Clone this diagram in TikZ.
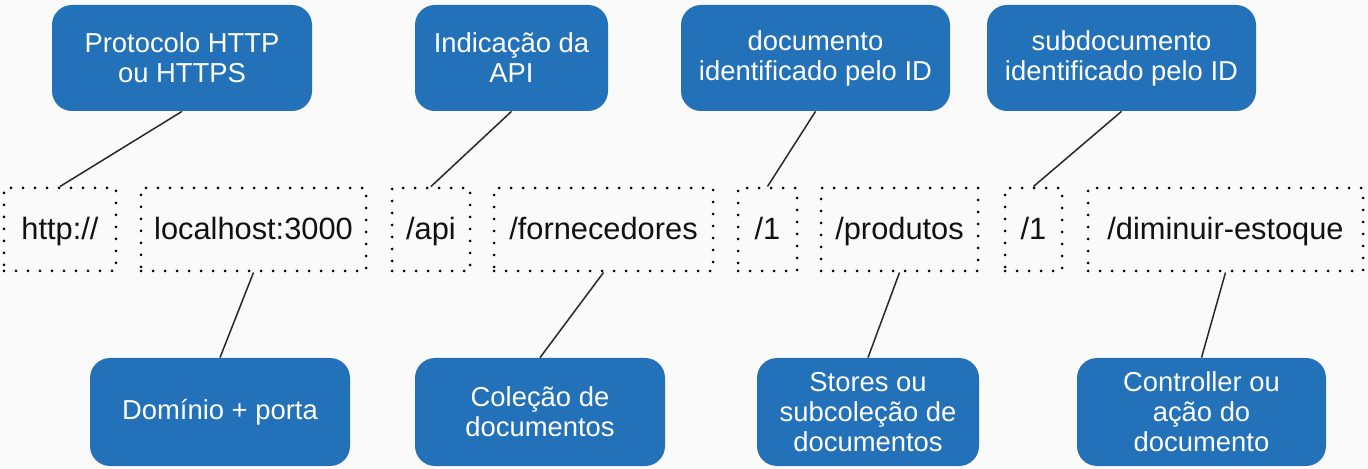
\documentclass[tikz,border=0pt]{standalone}
\usepackage{fontspec}
\setmainfont{Liberation Sans}
\definecolor{bgc}{RGB}{250,250,250}
\definecolor{boxblue}{RGB}{34,113,185}
\definecolor{linegray}{RGB}{40,40,40}
\definecolor{txt}{RGB}{17,17,17}
\begin{document}
\begin{tikzpicture}[x=0.5pt,y=-0.5pt,
  bluebox/.style={fill=boxblue, rounded corners=10pt, text=white, align=center,
    font=\fontsize{13.7}{15}\selectfont, inner sep=0pt},
  dotbox/.style={draw=black, line width=1.5pt, dash pattern=on 0pt off 6pt, line cap=round,
    font=\fontsize{15.4}{18}\selectfont, text=txt, inner sep=0pt, minimum height=41.5pt,
    text height=12pt, text depth=1.5pt},
  conn/.style={draw=linegray, line width=0.75pt}]
\fill[bgc] (0,0) rectangle (1368,469);
\useasboundingbox (0,0) rectangle (1368,469);
% top boxes
\node[bluebox, minimum width=130pt, minimum height=53pt] (t1) at (182,58) {Protocolo HTTP\\ou HTTPS};
\node[bluebox, minimum width=96.5pt, minimum height=53pt] (t2) at (511.5,58) {Indicação da\\API};
\node[bluebox, minimum width=134.5pt, minimum height=53pt] (t3) at (815.5,58) {documento\\identificado pelo ID};
\node[bluebox, minimum width=134.5pt, minimum height=53pt] (t4) at (1121.5,58) {subdocumento\\identificado pelo ID};
% dotted boxes
\node[dotbox, minimum width=56pt] (d1) at (60,229.5) {http://};
\node[dotbox, minimum width=112.5pt] (d2) at (253.5,229.5) {localhost:3000};
\node[dotbox, minimum width=39pt] (d3) at (431,229.5) {/api};
\node[dotbox, minimum width=109.5pt] (d4) at (603.5,229.5) {/fornecedores};
\node[dotbox, minimum width=29.5pt] (d5) at (767.5,229.5) {/1};
\node[dotbox, minimum width=78.5pt] (d6) at (899.5,229.5) {/produtos};
\node[dotbox, minimum width=28.5pt] (d7) at (1033.5,229.5) {/1};
\node[dotbox, minimum width=137.5pt] (d8) at (1225.5,229.5) {/diminuir-estoque};
% bottom boxes
\node[bluebox, minimum width=130pt, minimum height=54pt] (b1) at (220,412) {Domínio + porta};
\node[bluebox, minimum width=125pt, minimum height=54pt] (b2) at (540,412) {Coleção de\\documentos};
\node[bluebox, minimum width=111pt, minimum height=54pt] (b3) at (868,412) {Stores ou\\subcoleção de\\documentos};
\node[bluebox, minimum width=124.5pt, minimum height=54pt] (b4) at (1201.5,412) {Controller ou\\ação do\\documento};
% connectors
\draw[conn] (t1.south) -- (d1.north);
\draw[conn] (t2.south) -- (d3.north);
\draw[conn] (t3.south) -- (d5.north);
\draw[conn] (t4.south) -- (d7.north);
\draw[conn] (d2.south) -- (b1.north);
\draw[conn] (d4.south) -- (b2.north);
\draw[conn] (d6.south) -- (b3.north);
\draw[conn] (d8.south) -- (b4.north);
\end{tikzpicture}
\end{document}
